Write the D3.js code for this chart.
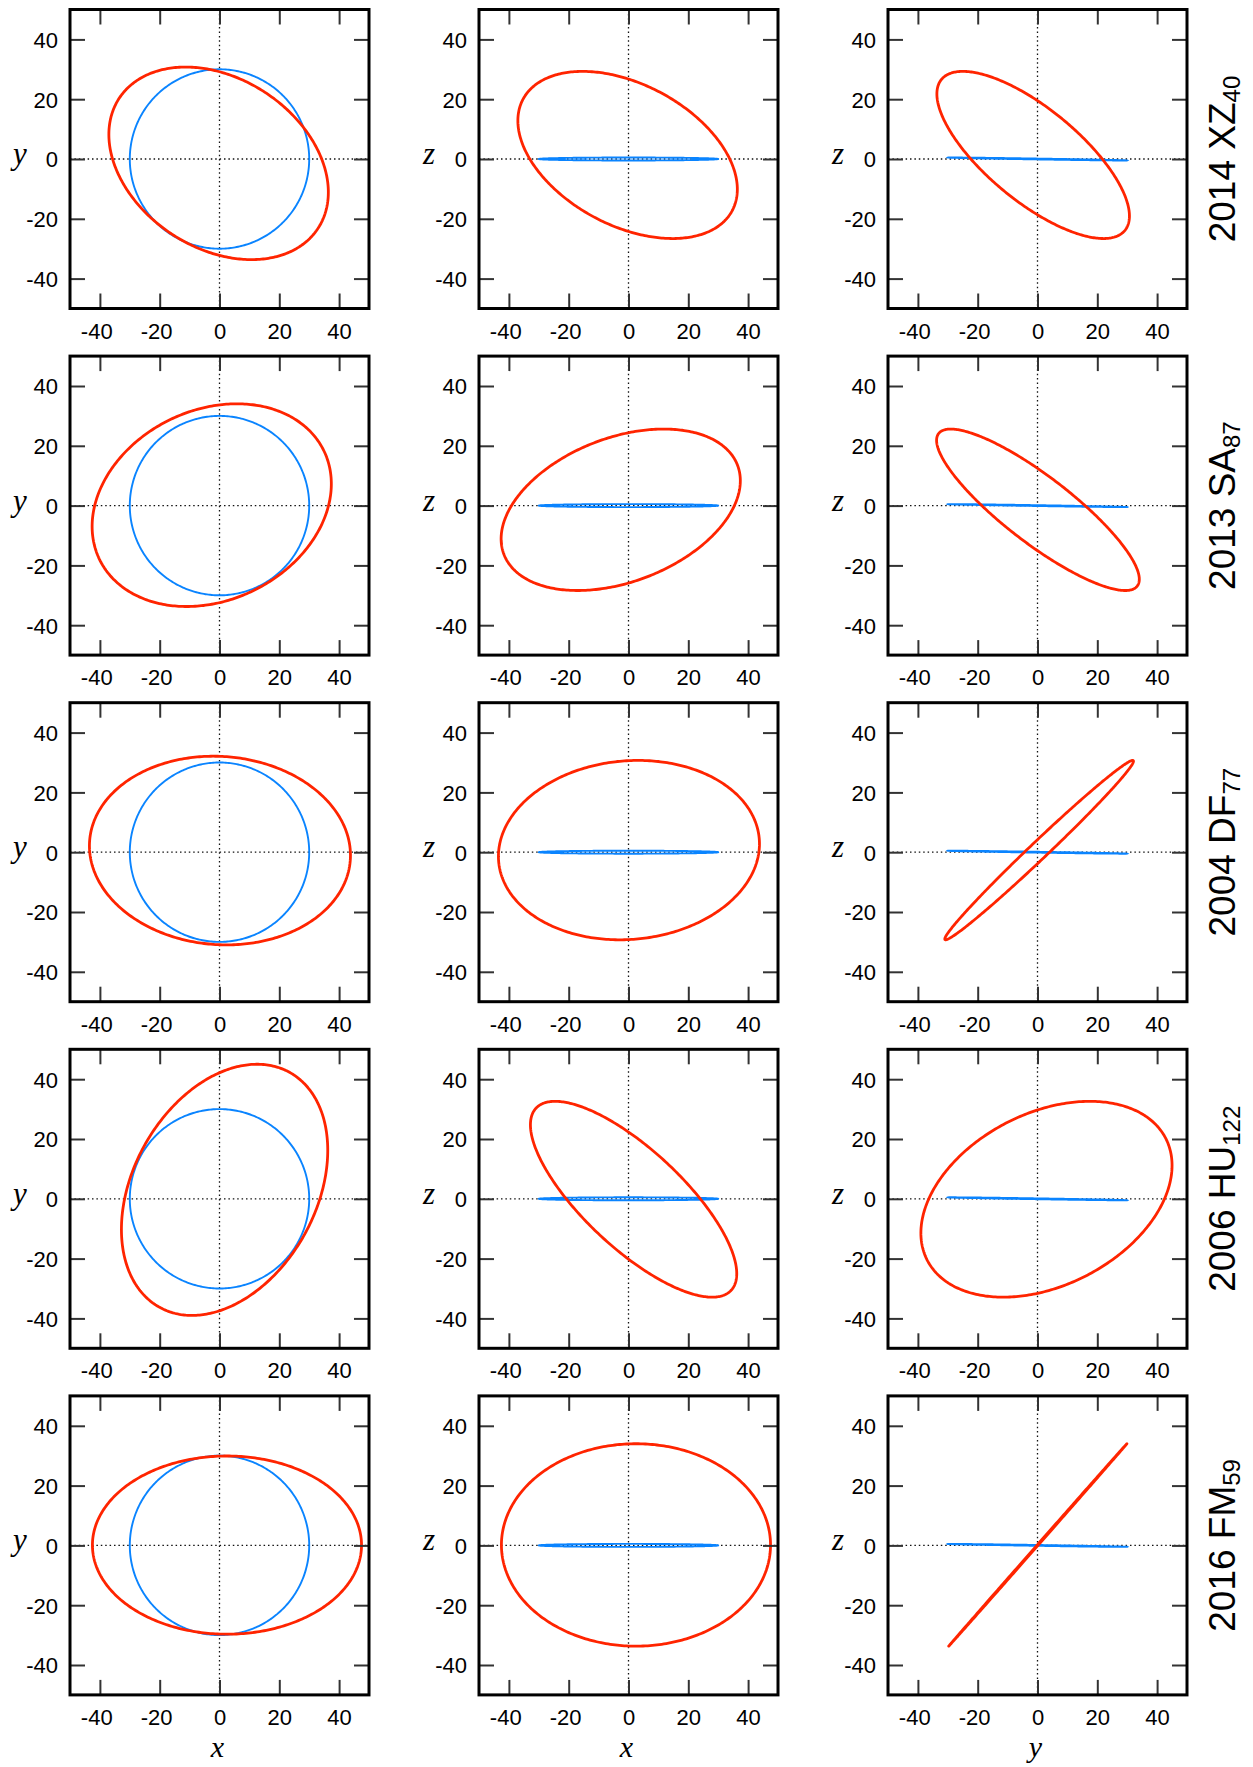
<!DOCTYPE html>
<html>
<head>
<meta charset="utf-8">
<script src="https://cdn.jsdelivr.net/npm/d3@7"></script>
<style>
  body { margin: 0; background: #fff; }
  svg { display: block; }
</style>
</head>
<body>
<svg id="chart" width="1253" height="1767"></svg>
<script>
// one row per object, names and their subscripts
const objectNames = ["2014 XZ", "2013 SA", "2004 DF", "2006 HU", "2016 FM"];
const objectSubs = ["40", "87", "77", "122", "59"];

// red orbits: centre, half-extent along each axis,
// and the correlation between the two axes of each projection
const centerX = [-0.3, -2.6, 0.15, 1.7, 2.5];
const centerY = [-1.45, 0.15, 0.55, 3.0, 0.1];
const centerZ = [1.35, -1.4, 0.7, -0.15, 0.15];
const halfX = [36.7, 40.0, 43.65, 34.5, 45.0];
const halfY = [32.2, 33.9, 31.55, 42.0, 29.8];
const halfZ = [27.95, 27.0, 30.0, 32.75, 33.85];
const corrXY = [-0.3, 0.21, -0.05, 0.315, 0.0];
const corrXZ = [-0.41, 0.36, 0.07, -0.76, 0.0];
const corrYZ = [-0.73, -0.86, 0.991, 0.345, 0.99998];

// blue reference circle (same in every row)
const refCenter = [0, 0, 0];
const refHalf = [30, 30, 0.5];
const refCorr = [0, 0, -0.96]; // xy, xz, yz

const tickValues = [-40, -20, 0, 20, 40];
const axisDomain = [-50, 50];
const panelAxes = [["x", "y"], ["x", "z"], ["y", "z"]];
const bottomTitles = ["x", "x", "y"];

const svg = d3.select("#chart");
const panelSize = 299;
const colLeft = [70, 479, 888];
const rowTop = d3.range(objectNames.length).map((i) => 9.5 + i * 346.6);
const tickLen = 15;
const tickFont = 22;
const fontSans = "'Liberation Sans', Arial, Helvetica, sans-serif";
const fontSerif = "'Liberation Serif', 'Times New Roman', serif";
const digitW = 0.556 * tickFont;

const angles = d3.range(0, 360).map((d) => (d * Math.PI) / 180);

function orbitOf(r) {
  return {
    c: { x: centerX[r], y: centerY[r], z: centerZ[r] },
    h: { x: halfX[r], y: halfY[r], z: halfZ[r] },
    rho: { xy: corrXY[r], xz: corrXZ[r], yz: corrYZ[r] },
  };
}
const refOrbit = {
  c: { x: refCenter[0], y: refCenter[1], z: refCenter[2] },
  h: { x: refHalf[0], y: refHalf[1], z: refHalf[2] },
  rho: { xy: refCorr[0], xz: refCorr[1], yz: refCorr[2] },
};

function projected(o, a, b) {
  const rho = o.rho[a + b];
  const s = Math.sqrt(Math.max(0, 1 - rho * rho));
  return angles.map((t) => [
    o.c[a] + o.h[a] * Math.cos(t),
    o.c[b] + o.h[b] * (rho * Math.cos(t) + s * Math.sin(t)),
  ]);
}

const minusFmt = (d) => (d < 0 ? "-" + Math.abs(d) : String(d));
const defs = svg.append("defs");

objectNames.forEach((name, r) => {
  const top = rowTop[r];
  const orbit = orbitOf(r);

  panelAxes.forEach(([a, b], c) => {
    const left = colLeft[c];
    const x = d3.scaleLinear().domain(axisDomain).range([left, left + panelSize]);
    const y = d3.scaleLinear().domain(axisDomain).range([top + panelSize, top]);
    const g = svg.append("g");
    const clipId = `clip-${r}-${c}`;
    defs.append("clipPath").attr("id", clipId)
      .append("rect")
      .attr("x", left).attr("y", top)
      .attr("width", panelSize).attr("height", panelSize);

    // dotted zero lines
    g.append("line")
      .attr("x1", left).attr("x2", left + panelSize)
      .attr("y1", y(0)).attr("y2", y(0))
      .attr("stroke", "#111").attr("stroke-width", 1.3)
      .attr("stroke-dasharray", "1.5,2.9");
    g.append("line")
      .attr("y1", top).attr("y2", top + panelSize)
      .attr("x1", x(0)).attr("x2", x(0))
      .attr("stroke", "#111").attr("stroke-width", 1.3)
      .attr("stroke-dasharray", "1.5,2.9");

    const line = d3.line()
      .x((d) => x(d[0]))
      .y((d) => y(d[1]))
      .curve(d3.curveLinearClosed);

    const curves = g.append("g").attr("clip-path", `url(#${clipId})`);
    curves.append("path")
      .attr("d", line(projected(refOrbit, a, b)))
      .attr("fill", "none")
      .attr("stroke", "#0a84ff")
      .attr("stroke-width", 1.9);
    curves.append("path")
      .attr("d", line(projected(orbit, a, b)))
      .attr("fill", "none")
      .attr("stroke", "#ff2400")
      .attr("stroke-width", 2.8)
      .attr("stroke-linejoin", "round");

    // axes with inward ticks
    const bottom = g.append("g")
      .attr("transform", `translate(0,${top + panelSize})`)
      .call(d3.axisBottom(x).tickValues(tickValues).tickSize(-tickLen).tickSizeOuter(0).tickPadding(14.5).tickFormat(minusFmt));
    bottom.selectAll("text")
      .attr("text-anchor", "end")
      .attr("dx", (d) => (String(Math.abs(d)).length * digitW) / 2);
    const leftAx = g.append("g")
      .attr("transform", `translate(${left},0)`)
      .call(d3.axisLeft(y).tickValues(tickValues).tickSize(-tickLen).tickSizeOuter(0).tickPadding(12).tickFormat(minusFmt));
    g.append("g")
      .attr("transform", `translate(0,${top})`)
      .call(d3.axisTop(x).tickValues(tickValues).tickSize(-tickLen).tickSizeOuter(0).tickFormat(""));
    g.append("g")
      .attr("transform", `translate(${left + panelSize},0)`)
      .call(d3.axisRight(y).tickValues(tickValues).tickSize(-tickLen).tickSizeOuter(0).tickFormat(""));

    g.selectAll(".domain").remove();
    g.selectAll(".tick line").attr("stroke", "#333").attr("stroke-width", 2);
    g.selectAll(".tick text")
      .attr("fill", "#000")
      .attr("font-family", fontSans)
      .attr("font-size", tickFont);
    leftAx.selectAll("text").attr("dy", "0.36em");

    g.append("rect")
      .attr("x", left).attr("y", top)
      .attr("width", panelSize).attr("height", panelSize)
      .attr("fill", "none")
      .attr("stroke", "#000")
      .attr("stroke-width", 3);

    // axis titles
    g.append("text")
      .attr("x", left - 50)
      .attr("y", y(0) + 5)
      .attr("text-anchor", "middle")
      .attr("font-family", fontSerif)
      .attr("font-style", "italic")
      .attr("font-size", 31)
      .text(b);
    if (r === objectNames.length - 1) {
      g.append("text")
        .attr("x", x(0) - 2)
        .attr("y", top + panelSize + 62)
        .attr("text-anchor", "middle")
        .attr("font-family", fontSerif)
        .attr("font-style", "italic")
        .attr("font-size", 30)
        .text(bottomTitles[c]);
    }
  });

  // object label on the right
  const label = svg.append("text")
    .attr("transform", `translate(1235,${top + panelSize / 2}) rotate(-90)`)
    .attr("text-anchor", "middle")
    .attr("font-family", fontSans)
    .attr("font-size", 37)
    .attr("fill", "#000");
  label.append("tspan").text(name);
  label.append("tspan").attr("dy", 5).attr("font-size", 24).text(objectSubs[r]);
});
</script>
</body>
</html>
